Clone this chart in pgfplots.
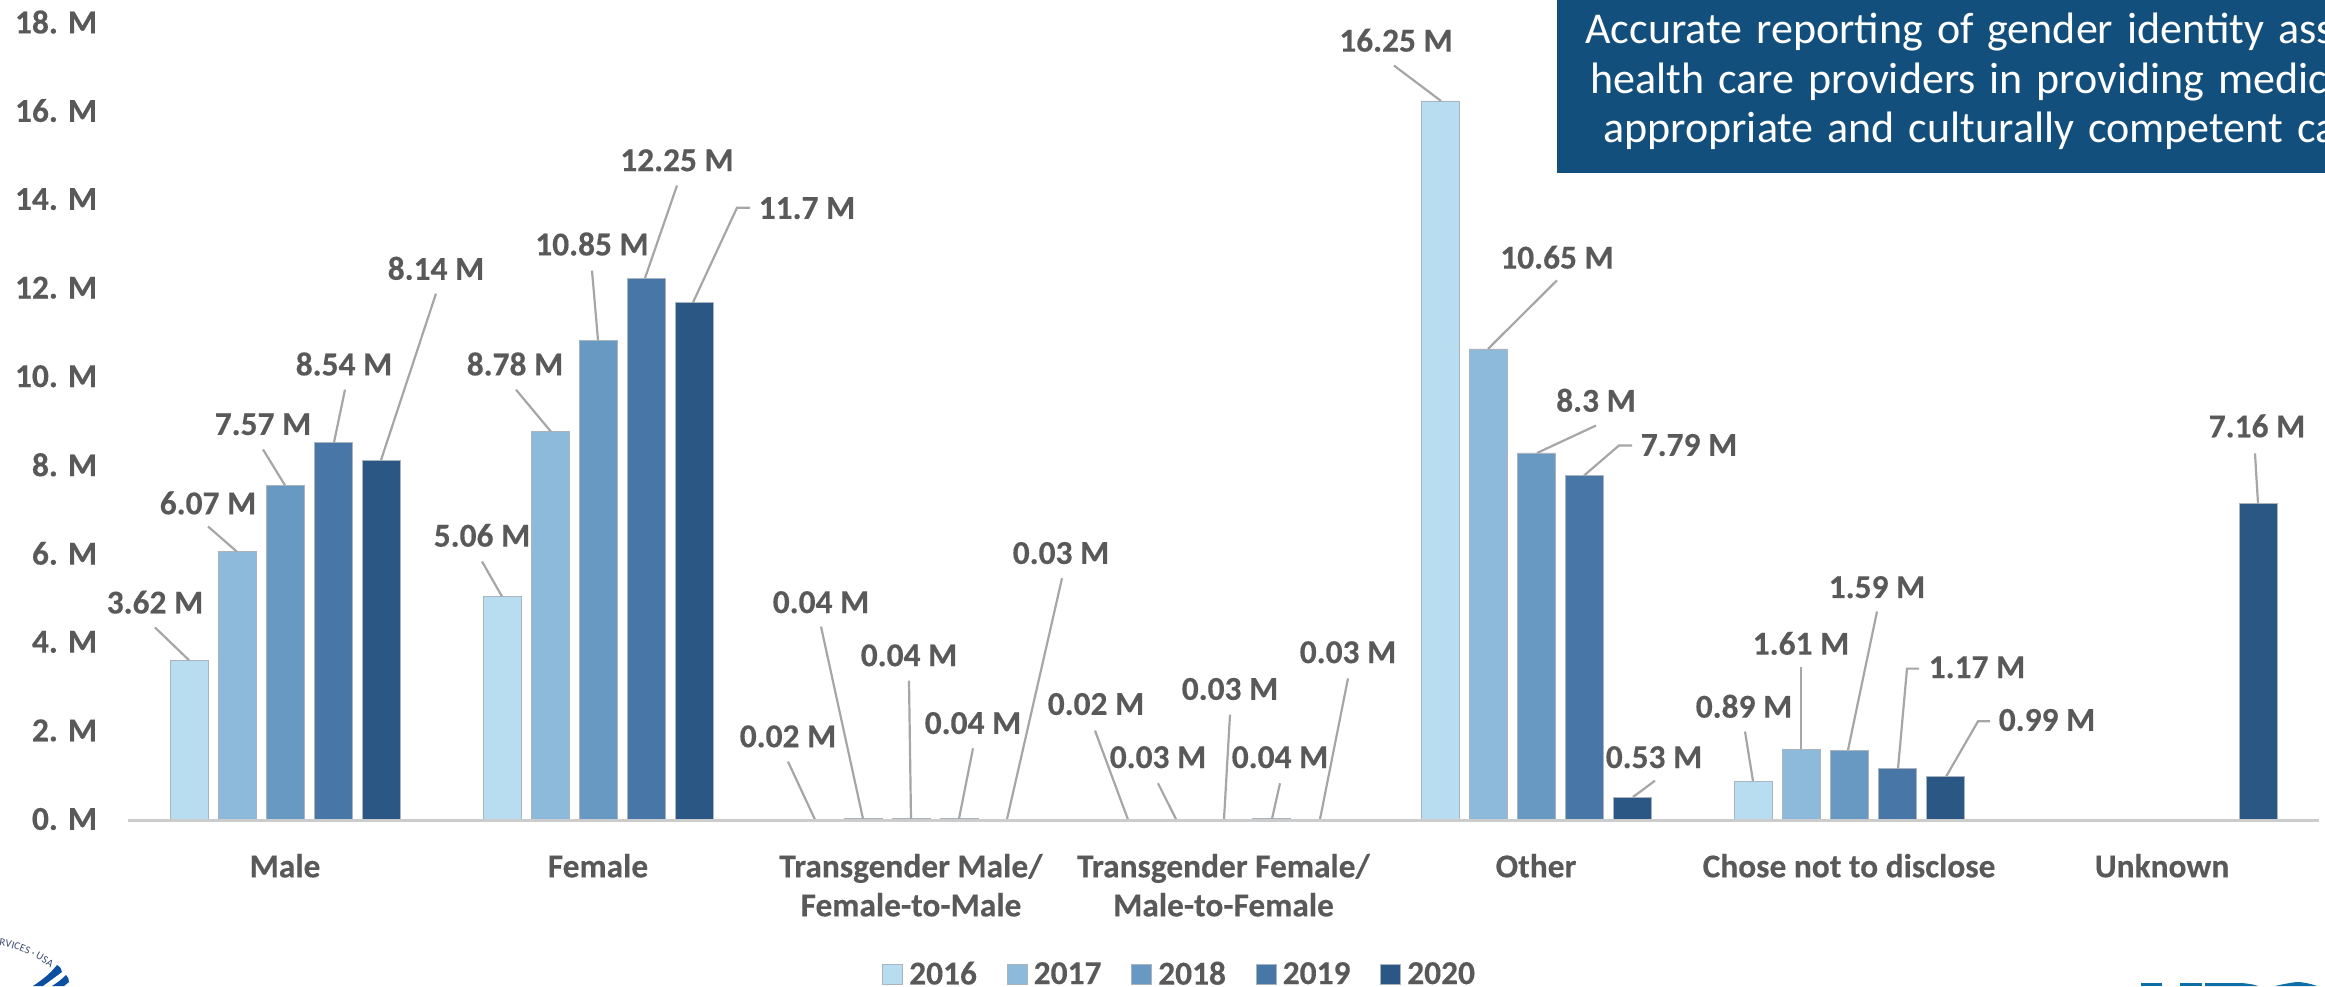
\documentclass[border=0pt]{standalone}
\usepackage{fontspec}
\setmainfont[BoldFeatures={FakeBold=0.3}]{Carlito}
\newfontfamily\boxfont[WordSpace=1.4]{Carlito}
\usepackage{pgfplots}
\pgfplotsset{compat=1.18}
\usetikzlibrary{decorations.text}

\definecolor{cA}{HTML}{B8DCF0}
\definecolor{cB}{HTML}{8DB9DB}
\definecolor{cC}{HTML}{6899C3}
\definecolor{cD}{HTML}{4876A6}
\definecolor{cE}{HTML}{2B5784}
\definecolor{edge}{HTML}{A9B4BE}
\definecolor{labelgrey}{HTML}{595959}
\definecolor{leadgrey}{HTML}{A6A6A6}
\definecolor{boxblue}{HTML}{134F7C}
\definecolor{sealblue}{HTML}{0B4FA0}
\definecolor{seattext}{HTML}{3A4A6B}
\definecolor{markblue}{HTML}{0F6EA5}

\newcommand{\lead}[1]{\addplot[sharp plot,forget plot,no marks,draw=leadgrey,line width=1.1pt] coordinates {#1};}
\newcommand{\val}[3]{\node[text=labelgrey,font=\bfseries\fontsize{16.7pt}{20pt}\selectfont,inner sep=0pt] at (axis cs:#1,#2) {#3};}

\begin{document}
\begin{tikzpicture}
\path[use as bounding box,clip] (0pt,0pt) rectangle (1162.5pt,493pt);
\begin{axis}[
  at={(64.25pt,82.75pt)}, anchor=south west, scale only axis,
  width=1095pt, height=398.5pt,
  xmin=128.5, xmax=2318.5, ymin=0, ymax=18,
  clip=false, axis on top,
  ybar=5pt, bar width=19pt,
  axis x line=bottom, axis y line=left,
  x axis line style={-,draw=black!20,line width=1.6pt},
  y axis line style={draw=none},
  major tick length=0pt,
  ytick={0,2,...,18},
  yticklabels={0. M,2. M,4. M,6. M,8. M,10. M,12. M,14. M,16. M,18. M},
  xtick={285,598,911,1223.5,1536,1849,2162},
  xticklabels={Male,Female,{Transgender Male/\\Female-to-Male},{Transgender Female/\\Male-to-Female},Other,Chose not to disclose,Unknown},
  tick label style={text=labelgrey,font=\bfseries\fontsize{16.7pt}{19.5pt}\selectfont},
  xticklabel style={align=center,anchor=north,inner sep=0pt},
  yticklabel style={anchor=east,inner sep=0pt},
  xtick pos=bottom,
  x tick label style={yshift=-16.5pt},
  y tick label style={xshift=-15.5pt,yshift=0.75pt},
  legend columns=5,
  legend style={at={(axis cs:882,-3.48)},anchor=west,draw=none,fill=none,inner sep=0pt,
    text=labelgrey,font=\bfseries\fontsize{16.7pt}{20pt}\selectfont,
    nodes={inner sep=0pt},
    /tikz/every odd column/.append style={column sep=3pt},
    /tikz/every even column/.append style={column sep=15pt}},
  legend image code/.code={\draw[#1] (0pt,-5pt) rectangle (10pt,5pt);},
  every axis plot/.append style={line width=0.4pt},
]
% Enrolment counts in millions, one series per year
\addplot[fill=cA,draw=edge] coordinates {(285,3.62)(598,5.06)(911,0.02)(1223.5,0.02)(1536,16.25)(1849,0.89)};
\addplot[fill=cB,draw=edge] coordinates {(285,6.07)(598,8.78)(911,0.04)(1223.5,0.03)(1536,10.65)(1849,1.61)};
\addplot[fill=cC,draw=edge] coordinates {(285,7.57)(598,10.85)(911,0.04)(1223.5,0.03)(1536,8.3)(1849,1.59)};
\addplot[fill=cD,draw=edge] coordinates {(285,8.54)(598,12.25)(911,0.04)(1223.5,0.04)(1536,7.79)(1849,1.17)};
\addplot[fill=cE,draw=edge] coordinates {(285,8.14)(598,11.7)(911,0.03)(1223.5,0.03)(1536,0.53)(1849,0.99)(2162,7.16)};
\legend{2016,2017,2018,2019,2020}

% Leader lines from each bar top to its value label
\lead{(189,3.62)(155,4.36)}
\lead{(237,6.07)(208,6.64)}
\lead{(285,7.57)(263,8.38)}
\lead{(334,8.54)(345,9.73)}
\lead{(381,8.14)(436,11.90)}
\lead{(502,5.06)(482,5.85)}
\lead{(551,8.78)(516,9.73)}
\lead{(598,10.85)(592,12.42)}
\lead{(645,12.25)(677,14.34)}
\lead{(693,11.7)(737,13.84)(750,13.84)}
\lead{(815,0.02)(788,1.33)}
\lead{(863,0.04)(821,4.38)}
\lead{(911,0.04)(909,3.16)}
\lead{(959,0.04)(973,1.63)}
\lead{(1007,0.03)(1062,5.47)}
\lead{(1128,0.02)(1095,2.03)}
\lead{(1176,0.03)(1158,0.84)}
\lead{(1224,0.03)(1230,2.39)}
\lead{(1272,0.04)(1280,0.84)}
\lead{(1320,0.03)(1348,3.21)}
\lead{(1441,16.25)(1394,17.05)}
\lead{(1488,10.65)(1557,12.20)}
\lead{(1537,8.3)(1596,8.92)}
\lead{(1584,7.79)(1619,8.47)(1632,8.47)}
\lead{(1633,0.53)(1655,0.90)}
\lead{(1753,0.89)(1745,2.01)}
\lead{(1801,1.61)(1801,3.46)}
\lead{(1848,1.59)(1877,4.72)}
\lead{(1898,1.17)(1907,3.43)(1919,3.43)}
\lead{(1946,0.99)(1978,2.24)(1990,2.24)}
\lead{(2258,7.16)(2255,8.29)}

% Value labels
\val{155}{4.93}{3.62 M}
\val{208}{7.17}{6.07 M}
\val{263}{8.95}{7.57 M}
\val{344}{10.31}{8.54 M}
\val{436}{12.47}{8.14 M}
\val{482}{6.44}{5.06 M}
\val{515}{10.31}{8.78 M}
\val{592}{13.02}{10.85 M}
\val{677}{14.91}{12.25 M}
\val{807}{13.83}{11.7 M}
\val{788}{1.90}{0.02 M}
\val{821}{4.93}{0.04 M}
\val{909}{3.73}{0.04 M}
\val{973}{2.20}{0.04 M}
\val{1061}{6.04}{0.03 M}
\val{1096}{2.63}{0.02 M}
\val{1158}{1.43}{0.03 M}
\val{1230}{2.97}{0.03 M}
\val{1280}{1.43}{0.04 M}
\val{1348}{3.80}{0.03 M}
\val{1396}{17.62}{16.25 M}
\val{1557}{12.72}{10.65 M}
\val{1596}{9.49}{8.3 M}
\val{1689}{8.48}{7.79 M}
\val{1654}{1.43}{0.53 M}
\val{1744}{2.58}{0.89 M}
\val{1801}{4.00}{1.61 M}
\val{1877}{5.27}{1.59 M}
\val{1977}{3.46}{1.17 M}
\val{2047}{2.27}{0.99 M}
\val{2257}{8.91}{7.16 M}
\end{axis}

% Call-out box in the upper right corner
\fill[boxblue] (778.5pt,406.5pt) rectangle (1162.5pt,493pt);
\begin{scope}[every node/.style={anchor=base west,inner sep=0pt,text=white,font=\boxfont\fontsize{22pt}{25pt}\selectfont}]
\node at (792.5pt,471pt) {Accurate reporting of gender identity ass};
\node at (795pt,446pt) {health care providers in providing medic};
\node at (801.5pt,421.5pt) {appropriate and culturally competent ca};
\end{scope}

% Seal in the lower left corner
\fill[sealblue] (28.5pt,10.5pt) .. controls (30pt,9.5pt) and (31pt,8.5pt) .. (31pt,7pt) -- (21.5pt,0pt) -- (16.5pt,0pt) .. controls (21pt,3pt) and (25pt,6pt) .. cycle;
\fill[sealblue] (33pt,5.5pt) .. controls (34pt,4.5pt) and (34.5pt,3.5pt) .. (34.5pt,2pt) -- (32pt,0pt) -- (26pt,0pt) .. controls (28.5pt,1.5pt) and (31pt,3.5pt) .. cycle;
\path[decorate,decoration={text along path,text color=seattext,
  text={|\fontsize{5.4pt}{6pt}\selectfont|RVICES · USA}}]
  (-0.5pt,20pt) .. controls (10pt,19pt) and (20pt,14pt) .. (36pt,1pt);

% Word mark in the lower right corner, cut off by the page edge
\fill[markblue] (1070.5pt,0pt) rectangle (1081pt,1.5pt);
\fill[markblue] (1090pt,0pt) rectangle (1101pt,1.5pt);
\fill[markblue] (1102.5pt,0pt) -- (1102.5pt,1.5pt) -- (1120pt,1.5pt) .. controls (1124pt,1.3pt) and (1127pt,0.8pt) .. (1129pt,0pt) -- cycle;
\fill[markblue] (1137.5pt,0pt) .. controls (1143pt,1.3pt) and (1148pt,2pt) .. (1148.5pt,2pt) .. controls (1151pt,2pt) and (1155pt,1.3pt) .. (1158.5pt,0pt) -- cycle;
\end{tikzpicture}
\end{document}
